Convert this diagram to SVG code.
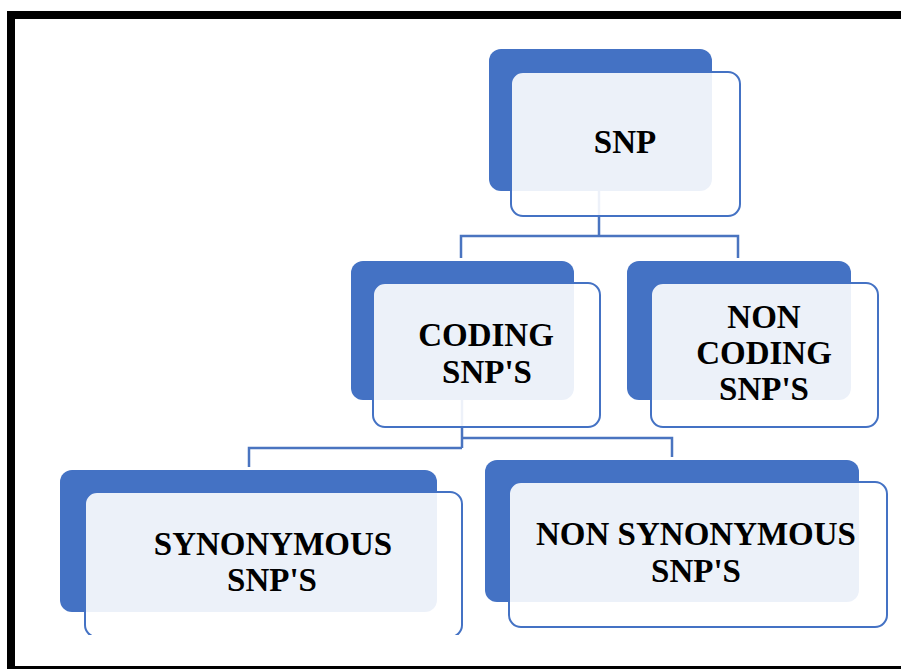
<svg xmlns="http://www.w3.org/2000/svg" width="901" height="669" viewBox="0 0 901 669">
<style>
.back{fill:#4472C4;}
.front{fill:#FFFFFF;fill-opacity:0.9;stroke:#4472C4;stroke-width:2;}
.lbl{font-family:"Liberation Serif","Times New Roman",serif;font-weight:bold;font-size:33px;fill:#000;text-anchor:middle;}
.conn{fill:none;stroke:#4A74C0;stroke-width:2.5;}
</style>
<defs>
<clipPath id="clipBottom"><rect x="0" y="0" width="901" height="635"/></clipPath>
</defs>
<rect x="0" y="0" width="901" height="669" fill="#FFFFFF"/>
<g id="frame">
<rect x="7" y="11" width="894" height="8" fill="#000"/>
<rect x="7" y="11" width="8" height="658" fill="#000"/>
<rect x="7" y="666" width="894" height="3" fill="#000"/>
</g>
<g id="connectors">
<path class="conn" d="M599 191 V236 M461 258 V236 H738 V258"/>
<path class="conn" d="M462 400 V448 M462 438 H672 V457 M462 448 H249 V467"/>
</g>
<g id="snp">
<rect class="back" x="489" y="49" width="223" height="142" rx="12"/>
<rect class="front" x="511" y="72" width="229" height="144" rx="12"/>
<text class="lbl" x="625" y="153">SNP</text>
</g>
<g id="coding">
<rect class="back" x="351" y="261" width="223" height="139" rx="12"/>
<rect class="front" x="373" y="283" width="227" height="144" rx="12"/>
<text class="lbl" x="486" y="346">CODING</text>
<text class="lbl" x="487" y="383">SNP'S</text>
</g>
<g id="noncoding">
<rect class="back" x="627" y="261" width="224" height="139" rx="12"/>
<rect class="front" x="651" y="283" width="227" height="144" rx="12"/>
<text class="lbl" x="764" y="328">NON</text>
<text class="lbl" x="764" y="364">CODING</text>
<text class="lbl" x="764" y="400">SNP'S</text>
</g>
<g id="synonymous">
<rect class="back" x="60" y="470" width="377" height="142" rx="12"/>
<rect class="front" x="85" y="492" width="377" height="145" rx="12" clip-path="url(#clipBottom)"/>
<text class="lbl" x="273" y="555">SYNONYMOUS</text>
<text class="lbl" x="272" y="591">SNP'S</text>
</g>
<g id="nonsynonymous">
<rect class="back" x="485" y="460" width="374" height="142" rx="12"/>
<rect class="front" x="509" y="482" width="378" height="145" rx="12"/>
<text class="lbl" x="696" y="545">NON SYNONYMOUS</text>
<text class="lbl" x="696" y="582">SNP'S</text>
</g>
</svg>
